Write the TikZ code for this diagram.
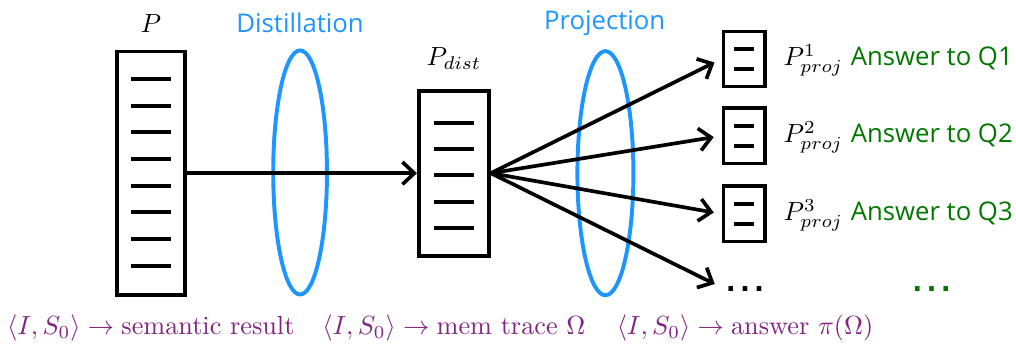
\documentclass[tikz,border=0pt]{standalone}
\usepackage{amsmath}
\usepackage{fontspec}
\setsansfont{Open Sans}
\newfontfamily\dotfont{DejaVu Sans}
\usetikzlibrary{positioning,arrows.meta}
\definecolor{lensblue}{RGB}{30,150,255}
\definecolor{ansgreen}{RGB}{0,120,0}
\definecolor{mapviolet}{RGB}{130,35,130}
\newcommand{\moredots}{.\kern1.6pt.\kern1.6pt.}

\begin{document}
\begin{tikzpicture}[scale=1.0,
  doc/.style={draw,line width=1.4pt,inner sep=0pt},
  rule/.style={line width=1.5pt},
  lens/.style={draw=lensblue,line width=1.5pt},
  flow/.style={-{Straight Barb[length=4.5pt,width=8.5pt]},line width=1.4pt},
  stage/.style={font=\sffamily\fontsize{9.8}{12}\selectfont,text=lensblue,anchor=base},
  answer/.style={font=\sffamily\fontsize{9.8}{12}\selectfont,text=ansgreen,anchor=base west,inner sep=0pt},
  etc/.style={font=\dotfont\bfseries\fontsize{10}{12}\selectfont,inner sep=0pt},
  mapping/.style={text=mapviolet,anchor=base,inner sep=0pt}]
  \useasboundingbox (0,0) rectangle (13.61,4.62);
  % lenses
  \draw[lens] (4.02,2.31) ellipse (0.36 and 1.635);
  \draw[lens] (8.11,2.30) ellipse (0.375 and 1.635);
  \node[stage] (dist) at (4.02,4.19) {Distillation};
  \node[stage] (proj) at (8.10,4.23) {Projection};
  % full program P
  \node[doc,minimum width=0.91cm,minimum height=3.26cm] (P) at (2.02,2.30) {};
  \foreach \i in {0,...,7}
    \draw[rule] (1.75,{3.56-\i*0.357}) -- (2.29,{3.56-\i*0.357});
  \node[anchor=base] (Plab) at (2.02,4.19) {$P$};
  % distilled program
  \node[doc,minimum width=0.94cm,minimum height=2.21cm] (Pd) at (6.08,2.30) {};
  \foreach \i in {0,...,4}
    \draw[rule] (5.81,{2.97-\i*0.35}) -- (6.35,{2.97-\i*0.35});
  \node[anchor=base] (Pdlab) at (6.08,3.74) {$P_{dist}$};
  \draw[flow] (P.east) -- (Pd.west);
  % projections: box, label, answer
  \foreach \n/\y in {1/3.83,2/2.80,3/1.755}{
    \node[doc,minimum width=0.56cm,minimum height=0.74cm] (b\n) at (9.97,\y) {};
    \draw[rule] ([xshift=-0.134cm,yshift=0.134cm]b\n.center) -- ++(0.268,0);
    \draw[rule] ([xshift=-0.134cm,yshift=-0.134cm]b\n.center) -- ++(0.268,0);
    \node[anchor=base west,inner sep=0pt] (l\n) at (10.49,{\y-0.094}) {$P^{\n}_{proj}$};
    \node[answer] (a\n) at (11.39,{\y-0.094}) {Answer to Q\n};
    \draw[flow,shorten >=3pt] (Pd.east) -- (b\n.west);
  }
  % more projections
  \node[etc] (more) at (9.98,0.745) {\moredots};
  \node[etc,text=ansgreen] (amore) at (12.48,0.745) {\moredots};
  \draw[flow,shorten >=4.5pt] (Pd.east) -- (more.west);
  % mappings
  \node[mapping] (m1) at (2.02,0.134) {$\langle I,S_0\rangle \rightarrow \text{semantic result}$};
  \node[mapping] (m2) at (6.08,0.134) {$\langle I,S_0\rangle \rightarrow \text{mem trace } \Omega$};
  \node[mapping] (m3) at (9.98,0.134) {$\langle I,S_0\rangle \rightarrow \text{answer } \pi(\Omega)$};
\end{tikzpicture}
\end{document}
